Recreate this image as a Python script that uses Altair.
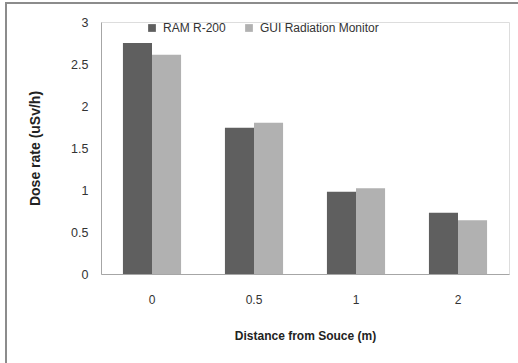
import altair as alt
import pandas as pd

distances = ["0", "0.5", "1", "2"]
series = ["RAM R-200", "GUI Radiation Monitor"]
ram_values = [2.75, 1.74, 0.98, 0.73]
gui_values = [2.61, 1.80, 1.02, 0.64]
colors = ["#5f5f5f", "#b1b1b1"]
y_ticks = [0, 0.5, 1, 1.5, 2, 2.5, 3]

rows = []
for d, r, g in zip(distances, ram_values, gui_values):
    rows.append({"Distance": d, "Series": series[0], "Value": r})
    rows.append({"Distance": d, "Series": series[1], "Value": g})
df = pd.DataFrame(rows)

FONT = "Liberation Sans"

bars = alt.Chart(df).mark_bar().encode(
    x=alt.X("Distance:N", sort=distances,
            scale=alt.Scale(paddingInner=0.43, paddingOuter=0.215),
            axis=alt.Axis(title="Distance from Souce (m)", labelAngle=0, ticks=False,
                          domainColor="#a6a6a6", labelPadding=20, titlePadding=25,
                          labelColor="#333333", titleColor="#222222",
                          labelFontSize=12, titleFontSize=12, titleFontWeight="bold",
                          labelFont=FONT, titleFont=FONT)),
    xOffset=alt.XOffset("Series:N", sort=series, scale=alt.Scale(paddingInner=0, paddingOuter=0)),
    y=alt.Y("Value:Q", scale=alt.Scale(domain=[0, 3], nice=False),
            axis=alt.Axis(title="Dose rate (uSv/h)", values=y_ticks, ticks=False, grid=False,
                          format="~g",
                          domainColor="#a6a6a6", labelPadding=13, titlePadding=28,
                          labelColor="#333333", titleColor="#222222",
                          labelFontSize=12.5, titleFontSize=14, titleFontWeight="bold",
                          labelFont=FONT, titleFont=FONT)),
    color=alt.Color("Series:N", sort=series,
                    scale=alt.Scale(domain=series, range=colors),
                    legend=alt.Legend(title=None, orient="none", direction="horizontal",
                                      legendX=45, legendY=0, symbolType="square",
                                      symbolSize=60, symbolStrokeWidth=0,
                                      labelFontSize=12, labelFont=FONT, labelColor="#333333",
                                      columnPadding=17, labelOffset=5)),
)

top_border = alt.Chart(df).mark_rule(color="#8c8c8c", strokeWidth=1.5).encode(
    x=alt.value(-96), x2=alt.value(420), y=alt.value(-19))
left_border = alt.Chart(df).mark_rule(color="#8c8c8c", strokeWidth=1.5).encode(
    x=alt.value(-95), y=alt.value(-19), y2=alt.value(345))

chart = alt.layer(bars, top_border, left_border).properties(
    width=408, height=252, autosize="none",
    padding={"left": 101, "top": 22, "right": 9, "bottom": 89},
).configure_view(stroke=None).configure(background="white")

chart.save("out.html", embed_options={"renderer": "svg", "actions": False})
